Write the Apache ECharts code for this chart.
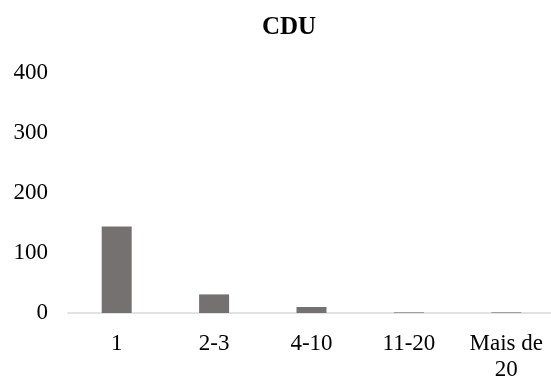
<!DOCTYPE html>
<html>
<head>
<meta charset="utf-8">
<script src="https://cdn.jsdelivr.net/npm/echarts@6/dist/echarts.min.js"></script>
<style>
  html, body { margin: 0; padding: 0; background: #fff; }
  #chart { width: 551px; height: 378px; }
</style>
</head>
<body>
<div id="chart"></div>
<script>
const categories = ['1', '2-3', '4-10', '11-20', 'Mais de\n20'];
const values = [144, 31, 10, 1, 1];
const yTicks = { min: 0, max: 400, interval: 100 };

const chart = echarts.init(document.getElementById('chart'));
const font = '"Liberation Serif", "Times New Roman", serif';

chart.setOption({
  animation: false,
  title: {
    text: 'CDU',
    left: 284,
    textAlign: 'center',
    top: 10,
    textStyle: { fontFamily: font, fontSize: 25, fontWeight: 'bold', color: '#000' }
  },
  grid: { left: 68, top: 73, width: 487, height: 240, outerBoundsMode: 'none' },
  xAxis: {
    type: 'category',
    data: categories,
    axisLine: { lineStyle: { color: '#d9d9d9', width: 1.5 } },
    axisTick: { show: false },
    axisLabel: {
      color: '#000',
      fontFamily: font,
      fontSize: 23,
      lineHeight: 26,
      margin: 18,
      interval: 0
    }
  },
  yAxis: {
    type: 'value',
    min: yTicks.min,
    max: yTicks.max,
    interval: yTicks.interval,
    axisLine: { show: false },
    axisTick: { show: false },
    splitLine: { show: false },
    axisLabel: { color: '#000', fontFamily: font, fontSize: 23, margin: 20 }
  },
  series: [
    {
      type: 'bar',
      data: values,
      barWidth: 30,
      itemStyle: { color: '#767171' }
    }
  ]
});
</script>
</body>
</html>
